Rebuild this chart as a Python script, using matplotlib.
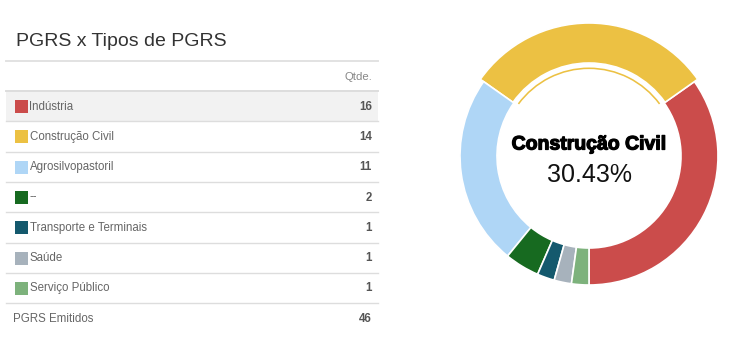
import matplotlib.pyplot as plt
import matplotlib as mpl
from matplotlib.patches import Rectangle, Wedge
from matplotlib import patheffects as pe

mpl.rcParams['font.family'] = ['Liberation Sans', 'DejaVu Sans']

# data
tipos = ["Indústria", "Construção Civil", "Agrosilvopastoril", "--",
         "Transporte e Terminais", "Saúde", "Serviço Público"]
qtde = [16, 14, 11, 2, 1, 1, 1]
cores = ["#cb4c4b", "#ecc143", "#afd6f6", "#176a20",
         "#14596d", "#a7b2bc", "#7db27c"]
titulo = "PGRS x Tipos de PGRS"
total_label = "PGRS Emitidos"
destaque = 1  # Construção Civil

W, H = 747, 357
fig = plt.figure(figsize=(W / 100, H / 100), dpi=100)

# tabela, em coordenadas de pixel
ax = fig.add_axes([0, 0, 1, 1])
ax.set_xlim(0, W)
ax.set_ylim(H, 0)
ax.axis('off')

x0, x1 = 6, 378
ax.text(16, 42, titulo, fontsize=14, color='#333333', va='center', ha='left')
ax.plot([x0, x1], [61, 61], color='#e2e2e2', lw=1.4)
ax.text(372, 77, "Qtde.", fontsize=8.2, color='#888888', va='center', ha='right')
ax.plot([x0, x1], [91, 91], color='#dddddd', lw=1.4)

row_h = 30.3
y = 91
for i, (nome, q, c) in enumerate(zip(tipos, qtde, cores)):
    if i == 0:
        ax.add_patch(Rectangle((x0, y), x1 - x0, row_h, color='#f2f2f2', lw=0))
    yc = y + row_h / 2 + 0.5
    ax.add_patch(Rectangle((15, yc - 6.5), 12.5, 13, color=c, lw=0))
    ax.text(29.5, yc, nome, fontsize=8.3, color='#666666', va='center', ha='left')
    ax.text(372, yc, str(q), fontsize=8.3, color='#555555', va='center',
            ha='right', fontweight='bold')
    y += row_h
    ax.plot([x0, x1], [y, y], color='#dddddd', lw=1.0)

ax.text(13, 318.5, total_label, fontsize=8.3, color='#666666', va='center', ha='left')
ax.text(372, 318.5, str(sum(qtde)), fontsize=8.3, color='#555555', va='center',
        ha='right', fontweight='bold')

# rosca
cx, cy, half = 589, 156, 140
axd = fig.add_axes([(cx - half) / W, (H - cy - half) / H, 2 * half / W, 2 * half / H])
wedges, _ = axd.pie(qtde, colors=cores, radius=129, startangle=-90, counterclock=True,
                    wedgeprops=dict(width=37, edgecolor='white', linewidth=1.2))
wd = wedges[destaque]
wd.set_radius(133)
wd.set_width(40)
axd.add_patch(Wedge((0, 0), 88.5, wd.theta1 + 1.2, wd.theta2 - 1.2, width=1.6,
                    color=cores[destaque], lw=0))
axd.set_xlim(-half, half)
axd.set_ylim(-half, half)
axd.set_aspect('equal')
axd.axis('off')

pct = 100 * qtde[destaque] / sum(qtde)
axd.text(0, 11, tipos[destaque], fontsize=14, fontweight='bold', color='black',
         ha='center', va='center',
         path_effects=[pe.withStroke(linewidth=0.9, foreground='black')])
axd.text(0, -19, f"{pct:.2f}%", fontsize=18, color='#111111', ha='center', va='center')

fig.savefig("out.png", dpi=100)
